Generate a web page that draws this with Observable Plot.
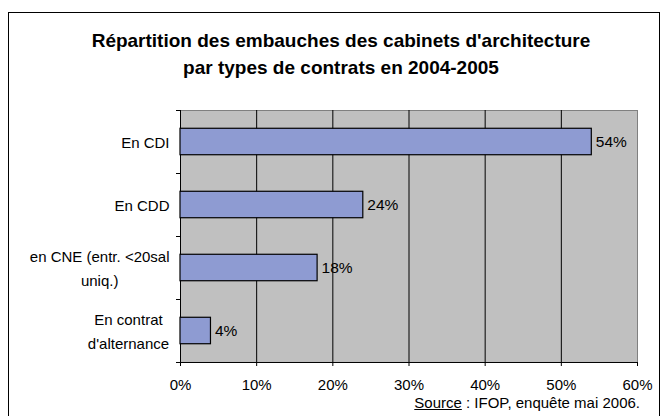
<!DOCTYPE html>
<html>
<head>
<meta charset="utf-8">
<script src="https://cdn.jsdelivr.net/npm/d3@7"></script>
<script src="https://cdn.jsdelivr.net/npm/@observablehq/plot@0.6"></script>
<style>
  html, body { margin: 0; padding: 0; background: #fff; }
  #wrap { position: relative; width: 662px; height: 416px; overflow: hidden; font-family: "Liberation Sans", Arial, sans-serif; }
  #border { position: absolute; left: 8px; top: 12px; width: 652px; height: 430px; box-sizing: border-box; border: 1.5px solid #000; }
  #title { position: absolute; left: 0; width: 682px; top: 27px; text-align: center; font-weight: bold; font-size: 19px; line-height: 27px; color: #000; }
  #chart { position: absolute; left: 0; top: 0; }
  #source { position: absolute; right: 22px; top: 396px; font-size: 15px; line-height: 13px; color: #000; white-space: nowrap; }
  #source u { text-decoration: underline; }
</style>
</head>
<body>
<div id="wrap">
  <div id="border"></div>
  <div id="title">Répartition des embauches des cabinets d'architecture<br>par types de contrats en 2004-2005</div>
  <div id="chart"></div>
  <div id="source"><u>Source</u> : IFOP, enquête mai 2006.</div>
</div>
<script>
const categories = ["En CDI", "En CDD", "en CNE (entr. <20sal\nuniq.)", "En contrat\nd'alternance"];
const values = [54, 24, 18, 4];
const valueLabels = ["54%", "24%", "18%", "4%"];
const xTicks = [0, 10, 20, 30, 40, 50, 60];
const gridTicks = [10, 20, 30, 40, 50];

const data = categories.map((c, i) => ({category: c, value: values[i], label: valueLabels[i]}));

const W = 662, H = 416, mTop = 110, mBottom = 54, mLeft = 180, mRight = 25;
const pInner = 0.58, pOuter = 0.29;
const step = (H - mTop - mBottom) / (categories.length - pInner + 2 * pOuter);

const chart = Plot.plot({
  width: W,
  height: H,
  marginTop: mTop,
  marginBottom: mBottom,
  marginLeft: mLeft,
  marginRight: mRight,
  style: {fontFamily: "Liberation Sans, Arial, sans-serif", fontSize: "15px", color: "#000", background: "transparent", overflow: "visible"},
  x: {domain: [0, 60]},
  y: {domain: categories, paddingInner: pInner, paddingOuter: pOuter, round: false},
  marks: [
    Plot.frame({fill: "#c0c0c0", stroke: "#808080"}),
    Plot.ruleX(gridTicks, {stroke: "#000", strokeWidth: 1}),
    Plot.ruleX([0], {stroke: "#000", strokeWidth: 1}),
    Plot.ruleY(categories, {y: d => d, x1: 0, x2: 0, insetLeft: -4, dy: -step / 2, stroke: "#000"}),
    Plot.ruleY([categories[categories.length - 1]], {y: d => d, x1: 0, x2: 60, insetLeft: -4, dy: step / 2, stroke: "#000"}),
    Plot.barX(data, {y: "category", x: "value", fill: "#8e9bd2", stroke: "#000", strokeWidth: 1.2}),
    Plot.text(data, {y: "category", x: "value", text: "label", dx: 4, textAnchor: "start", fontSize: 15.5, fill: "#000"}),
    Plot.axisX({ticks: xTicks, tickFormat: d => d + "%", tickSize: 4, tickPadding: 13, label: null, fontSize: 15, stroke: "#000"}),
    Plot.axisY({tickSize: 0, tickPadding: 11, label: null, fontSize: 15, lineHeight: 1.6, dy: -2})
  ]
});

document.getElementById("chart").appendChild(chart);

// center multi-line category labels relative to each other, keeping right edge
chart.querySelectorAll('g[aria-label="y-axis tick label"] text').forEach(t => {
  if (t.querySelectorAll("tspan").length > 1) {
    const w = t.getBBox().width;
    t.setAttribute("text-anchor", "middle");
    const tr = t.getAttribute("transform") || "";
    t.setAttribute("transform", tr + ` translate(${-w / 2},0)`);
  }
});
</script>
</body>
</html>
